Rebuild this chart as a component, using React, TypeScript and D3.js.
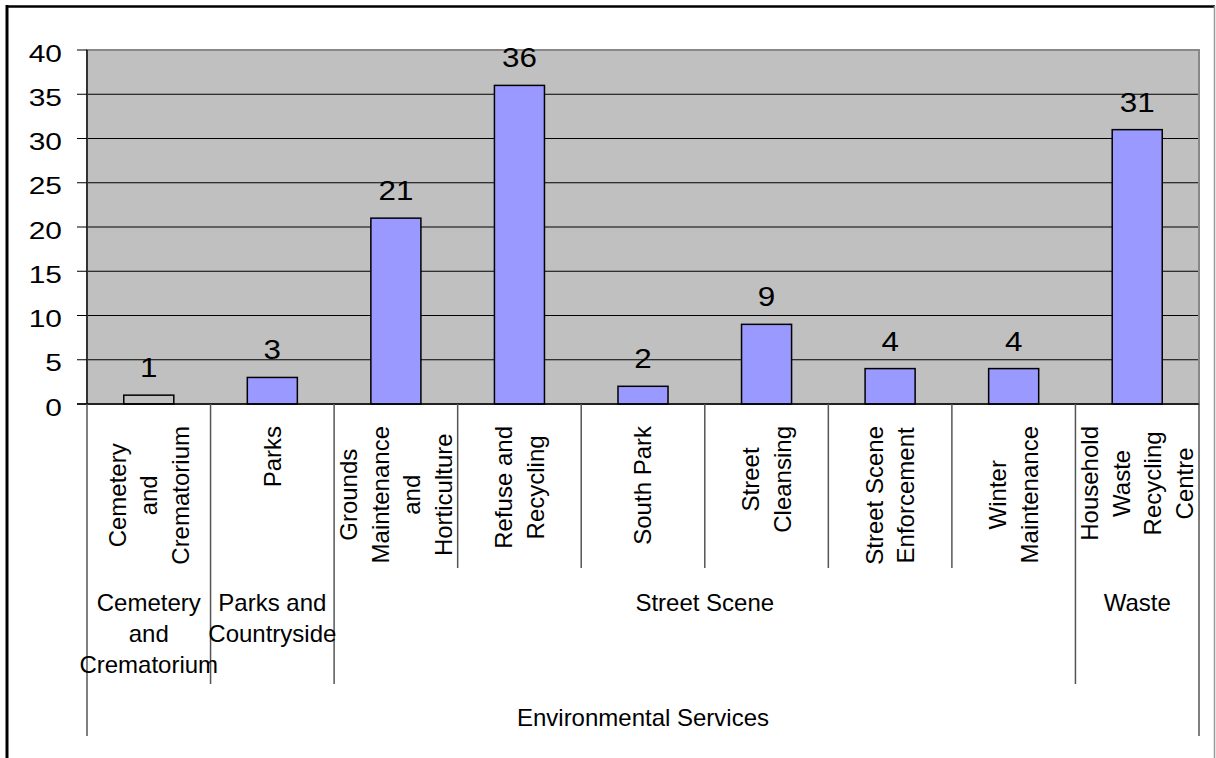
import React from "react";
import * as d3 from "d3";

const categories = [
  "Cemetery and Crematorium",
  "Parks",
  "Grounds Maintenance and Horticulture",
  "Refuse and Recycling",
  "South Park",
  "Street Cleansing",
  "Street Scene Enforcement",
  "Winter Maintenance",
  "Household Waste Recycling Centre",
];
const categoryLines = [
  ["Cemetery", "and", "Crematorium"],
  ["Parks"],
  ["Grounds", "Maintenance", "and", "Horticulture"],
  ["Refuse and", "Recycling"],
  ["South Park"],
  ["Street", "Cleansing"],
  ["Street Scene", "Enforcement"],
  ["Winter", "Maintenance"],
  ["Household", "Waste", "Recycling", "Centre"],
];
const values = [1, 3, 21, 36, 2, 9, 4, 4, 31];
const groupLabels = [
  ["Cemetery", "and", "Crematorium"],
  ["Parks and", "Countryside"],
  ["Street Scene"],
  ["Waste"],
];
const groupSpans = [1, 1, 6, 1];
const topGroup = "Environmental Services";
const yTicks = [0, 5, 10, 15, 20, 25, 30, 35, 40];

const FONT = "'Liberation Sans', Arial, sans-serif";

function measure(text: string, size: number): number {
  if (typeof document === "undefined") return text.length * size * 0.5;
  const c = document.createElement("canvas");
  const ctx = c.getContext("2d");
  if (!ctx) return text.length * size * 0.5;
  ctx.font = `${size}px ${FONT}`;
  return ctx.measureText(text).width;
}

export default function App() {
  const W = 1216;
  const H = 758;
  const left = 87;
  const right = 1199;
  const top = 50;
  const bottom = 404;

  const x = d3.scaleBand<string>().domain(categories).range([left, right]).padding(0);
  const y = d3.scaleLinear().domain([0, 40]).range([bottom, top]);
  const bw = x.bandwidth();
  const barW = bw * 0.405;

  const catFont = 24;
  const lineGap = 31.5;

  let acc = 0;
  const groupBounds = groupSpans.map((s) => {
    const g = { start: acc, end: acc + s };
    acc += s;
    return g;
  });
  const boundaryIdx = new Set(groupBounds.map((g) => g.start));

  const dividers = d3.range(categories.length + 1).map((i) => {
    const xp = i === categories.length ? right : (x(categories[i]) as number);
    let y2 = 568;
    if (i === 0 || i === categories.length) y2 = 736;
    else if (boundaryIdx.has(i)) y2 = 684;
    return { xp, y2 };
  });

  return (
    <svg
      width={W}
      height={H}
      style={{ position: "absolute", left: 0, top: 0, background: "#fff" }}
      fontFamily={FONT}
    >
      {/* outer frame */}
      <line x1={7} y1={5} x2={7} y2={H} stroke="#000" strokeWidth={3} />
      <line x1={6} y1={6.5} x2={1215} y2={6.5} stroke="#000" strokeWidth={2.5} />
      <line x1={1214.5} y1={6} x2={1214.5} y2={H} stroke="#999" strokeWidth={1.5} />

      {/* plot area */}
      <rect x={left} y={top} width={right - left} height={bottom - top} fill="#C0C0C0" />
      {yTicks
        .filter((t) => t > 0 && t < 40)
        .map((t) => (
          <line key={t} x1={left} x2={right} y1={y(t)} y2={y(t)} stroke="#000" strokeWidth={1} />
        ))}
      <rect
        x={left}
        y={top}
        width={right - left}
        height={bottom - top}
        fill="none"
        stroke="#888"
        strokeWidth={2}
      />

      {/* bars */}
      {values.map((v, i) => {
        const cx = (x(categories[i]) as number) + bw / 2;
        const ly = y(v) - 18;
        return (
          <g key={i}>
            <rect
              x={cx - barW / 2}
              y={y(v)}
              width={barW}
              height={y(0) - y(v)}
              fill={i === 0 ? "none" : "#9999FF"}
              stroke="#000"
              strokeWidth={1.5}
            />
            <text
              transform={`translate(${cx}, ${ly}) scale(1.1, 1)`}
              textAnchor="middle"
              fontSize={28.5}
              fill="#000"
            >
              {v}
            </text>
          </g>
        );
      })}

      {/* y axis */}
      <line x1={left} x2={left} y1={top} y2={bottom} stroke="#333" strokeWidth={2} />
      {yTicks.map((t) => (
        <g key={t}>
          <line x1={77} x2={left} y1={y(t)} y2={y(t)} stroke="#000" strokeWidth={1} />
          <text
            transform={`translate(62, ${y(t) + 11.5}) scale(1.22, 1)`}
            textAnchor="end"
            fontSize={24.5}
            fill="#000"
          >
            {t}
          </text>
        </g>
      ))}

      {/* x axis */}
      <line x1={77} x2={right} y1={bottom} y2={bottom} stroke="#000" strokeWidth={1.5} />
      {dividers.map((d, i) => (
        <line key={i} x1={d.xp} x2={d.xp} y1={bottom} y2={d.y2} stroke="#555" strokeWidth={1.5} />
      ))}

      {/* level 1 rotated labels */}
      {categoryLines.map((lines, i) => {
        const cx = (x(categories[i]) as number) + bw / 2;
        const maxLen = d3.max(lines, (l) => measure(l, catFont)) as number;
        const cy = 426 + maxLen / 2;
        const n = lines.length;
        return (
          <g key={i}>
            {lines.map((l, j) => {
              const lx = cx + (j - (n - 1) / 2) * lineGap;
              return (
                <text
                  key={j}
                  x={lx}
                  y={cy}
                  transform={`rotate(-90, ${lx}, ${cy})`}
                  textAnchor="middle"
                  dominantBaseline="central"
                  fontSize={catFont}
                  fill="#000"
                >
                  {l}
                </text>
              );
            })}
          </g>
        );
      })}

      {/* level 2 group labels */}
      {groupLabels.map((lines, gi) => {
        const g = groupBounds[gi];
        const x0 = x(categories[g.start]) as number;
        const x1 = g.end === categories.length ? right : (x(categories[g.end]) as number);
        const cx = (x0 + x1) / 2;
        return (
          <g key={gi}>
            {lines.map((l, j) => (
              <text key={j} x={cx} y={611 + j * 31} textAnchor="middle" fontSize={catFont} fill="#000">
                {l}
              </text>
            ))}
          </g>
        );
      })}

      {/* level 3 */}
      <text x={(left + right) / 2} y={726} textAnchor="middle" fontSize={catFont} fill="#000">
        {topGroup}
      </text>
    </svg>
  );
}
